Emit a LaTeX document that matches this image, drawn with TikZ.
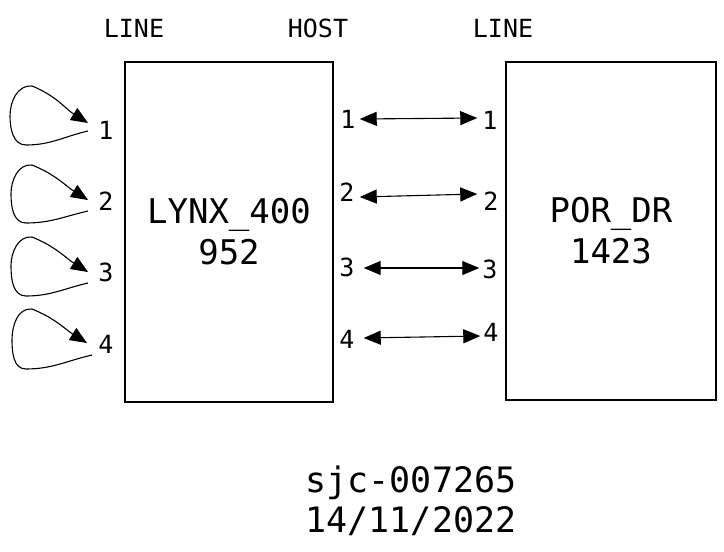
\documentclass[tikz,border=0pt]{standalone}
\usepackage{fontspec}
\setmonofont{DejaVu Sans Mono}
\usetikzlibrary{arrows.meta}
\begin{document}
\begin{tikzpicture}[x=1pt,y=-1pt,
  every node/.style={font=\ttfamily},
  lbl/.style={font=\ttfamily\fontsize{25}{30}\selectfont, inner sep=3pt},
  bigbox/.style={draw, line width=1.2pt, font=\ttfamily\fontsize{34}{41}\selectfont, align=center},
  link/.style={line width=1.1pt, {Triangle[length=17pt,width=14pt]}-{Triangle[length=17pt,width=14pt]}},
  loopy/.style={line width=1.1pt, -{Triangle[length=17pt,width=14pt]}},
  foot/.style={font=\ttfamily\fontsize{35}{40}\selectfont, align=center}]
\useasboundingbox (0,0) rectangle (724,552);
\fill[white] (0,0) rectangle (724,552);

% headers
\node[lbl] (hl) at (134,28) {LINE};
\node[lbl] (hh) at (318,28) {HOST};
\node[lbl] (hr) at (503,28) {LINE};

% boxes
\node[bigbox, minimum width=208pt, minimum height=340pt] (lynx) at (229,232) {LYNX\_400\\952};
\node[bigbox, minimum width=210pt, minimum height=338pt] (por) at (611,231) {POR\_DR\\1423};

% left line labels
\node[lbl] (l1) at (106,130) {1};
\node[lbl] (l2) at (106,201) {2};
\node[lbl] (l3) at (106,272) {3};
\node[lbl] (l4) at (106,344) {4};

% host labels
\node[lbl] (h1) at (348,119) {1};
\node[lbl] (h2) at (347,192) {2};
\node[lbl] (h3) at (347,267) {3};
\node[lbl] (h4) at (347,339) {4};

% right labels
\node[lbl] (r1) at (490,120) {1};
\node[lbl] (r2) at (491,201) {2};
\node[lbl] (r3) at (490,269) {3};
\node[lbl] (r4) at (491,332) {4};

% links (yshift is in canvas direction: positive = up)
\draw[link] ([xshift=1pt]h1.east) -- ([xshift=-2pt,yshift=2pt]r1.west);
\draw[link] ([xshift=2pt,yshift=-5pt]h2.east) -- ([xshift=-3pt,yshift=7pt]r2.west);
\draw[link] ([xshift=6pt,yshift=-1pt]h3.east) -- ([xshift=0pt,yshift=1pt]r3.west);
\draw[link] ([xshift=6pt,yshift=1pt]h4.east) -- ([xshift=0pt,yshift=-4pt]r4.west);

% loop coordinates: tail t, bottom c, left a, top b, tip e
\coordinate (t1) at (88,131); \coordinate (c1) at (26,145); \coordinate (a1) at (10,116); \coordinate (b1) at (32,86);  \coordinate (e1) at (88,123);
\coordinate (t2) at (88,211); \coordinate (c2) at (26,223); \coordinate (a2) at (11,194); \coordinate (b2) at (32,165); \coordinate (e2) at (88,200);
\coordinate (t3) at (88,283); \coordinate (c3) at (26,296); \coordinate (a3) at (11,266); \coordinate (b3) at (32,237); \coordinate (e3) at (88,272);
\coordinate (t4) at (92,355); \coordinate (c4) at (26,369); \coordinate (a4) at (12,340); \coordinate (b4) at (32,309); \coordinate (e4) at (87,343);

\foreach \k in {1,2,3,4}{
  \draw[loopy] (t\k) to[out=193,in=0] (c\k) to[out=180,in=-90] (a\k) to[out=90,in=175] (b\k) to[out=-22,in=148] (e\k);
}

% footer
\node[foot] (ft) at (411,501) {sjc-007265\\14/11/2022};
\end{tikzpicture}
\end{document}
